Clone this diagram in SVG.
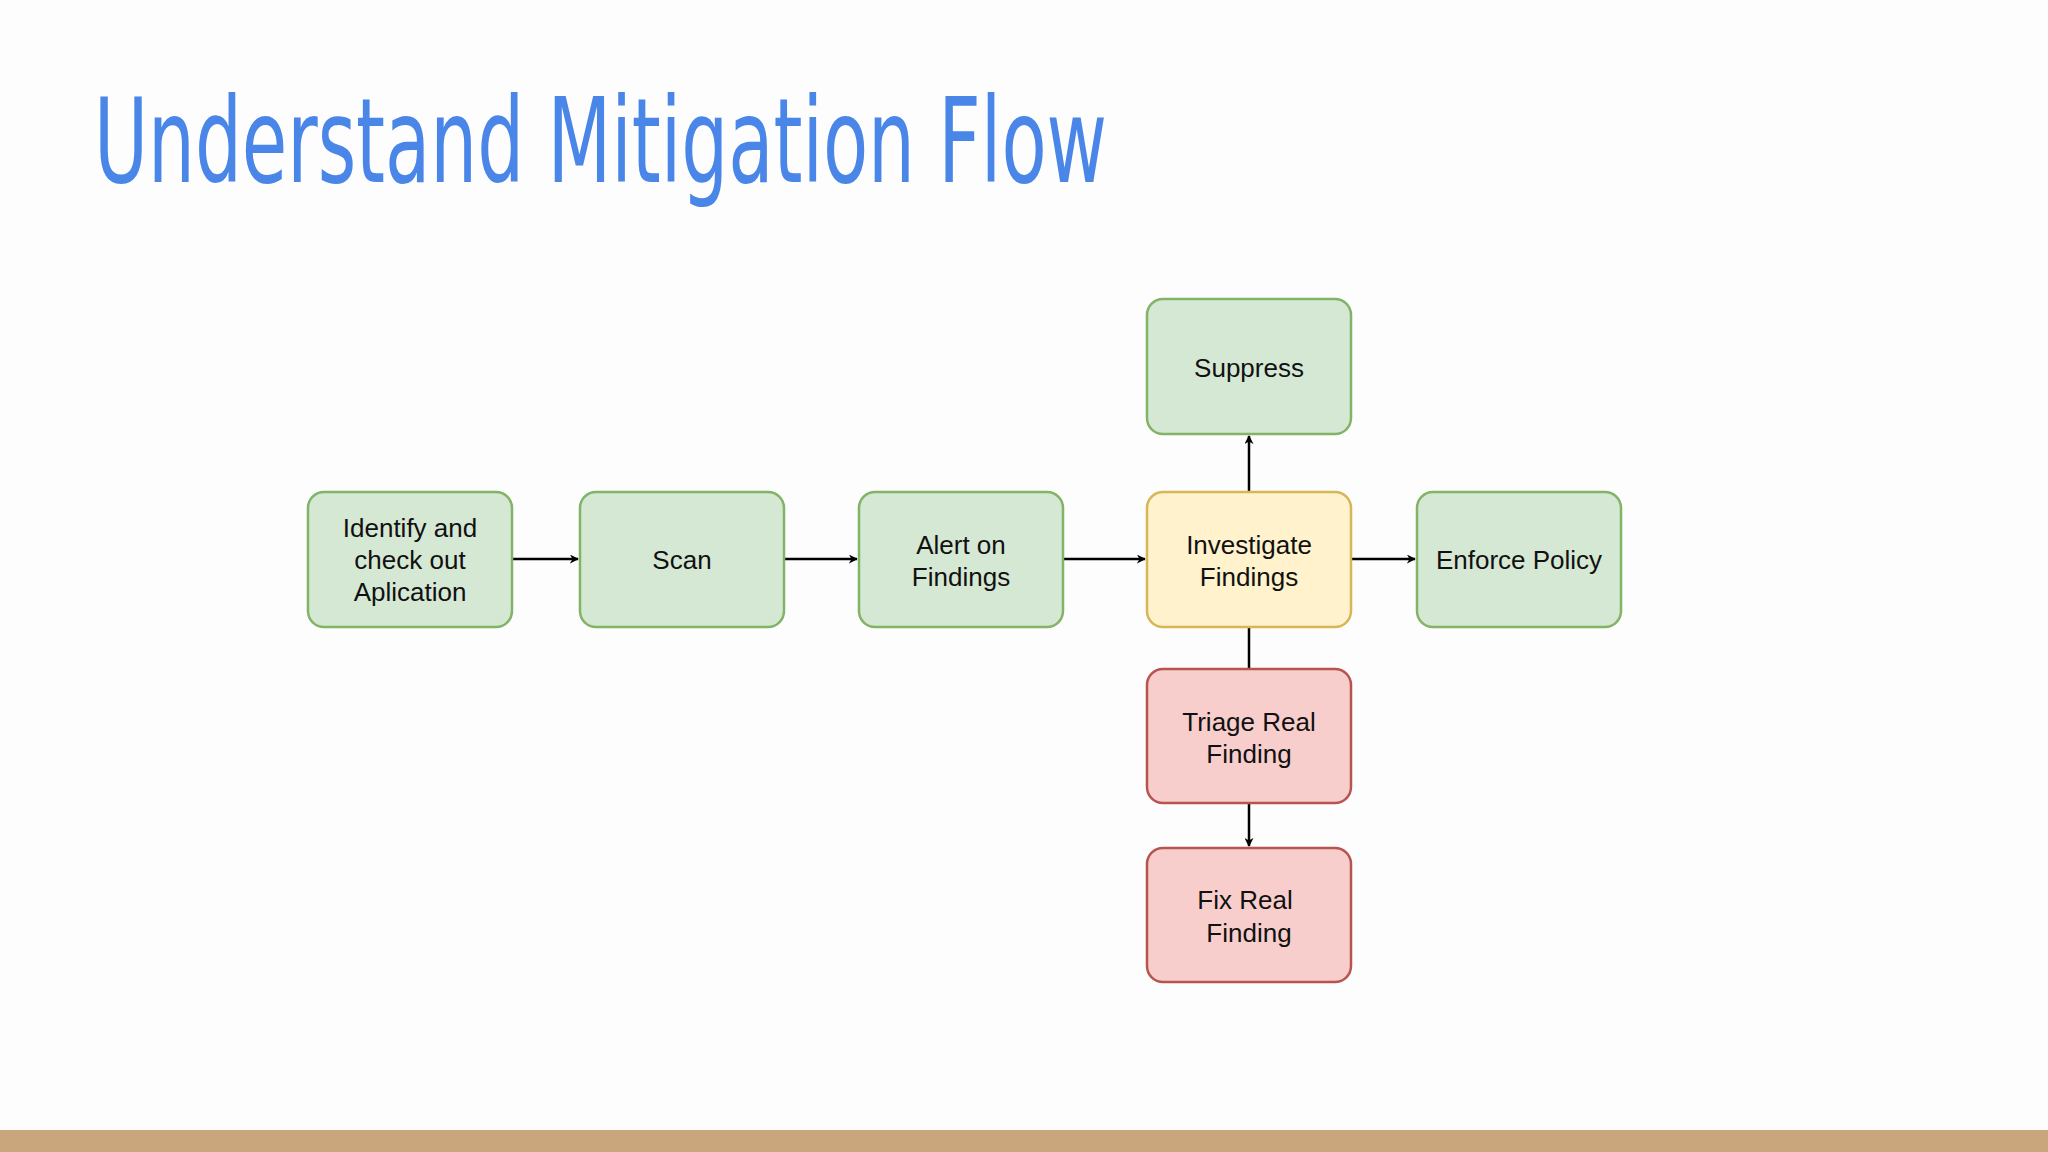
<svg xmlns="http://www.w3.org/2000/svg" width="2048" height="1152" viewBox="0 0 2048 1152">
<defs>
<marker id="ah" viewBox="0 0 10 10" refX="9" refY="5" markerWidth="9" markerHeight="9" markerUnits="userSpaceOnUse" orient="auto"><path d="M0,0 L10,5 L0,10 L3,5 z" fill="#000"/></marker>
<style>
.g{fill:#d5e8d4;stroke:#82b366;stroke-width:2.5}
.y{fill:#fff2cc;stroke:#d6b656;stroke-width:2.5}
.r{fill:#f8cecc;stroke:#b85450;stroke-width:2.5}
.t{font-family:"Liberation Sans",Arial,sans-serif;font-size:26px;fill:#111;text-anchor:middle}
.c{stroke:#000;stroke-width:2.5;fill:none}
</style>
</defs>
<rect width="2048" height="1152" fill="#fdfdfd"/>
<text x="94" y="182" font-family="'DejaVu Sans Condensed','DejaVu Sans',sans-serif" font-stretch="condensed" font-size="118" fill="#4a86e8" textLength="1013" lengthAdjust="spacingAndGlyphs">Understand Mitigation Flow</text>
<g id="connectors">
<line class="c" x1="512" y1="559" x2="578" y2="559" marker-end="url(#ah)"/>
<line class="c" x1="784" y1="559" x2="857" y2="559" marker-end="url(#ah)"/>
<line class="c" x1="1063" y1="559" x2="1145" y2="559" marker-end="url(#ah)"/>
<line class="c" x1="1351" y1="559" x2="1415" y2="559" marker-end="url(#ah)"/>
<line class="c" x1="1249" y1="492" x2="1249" y2="436" marker-end="url(#ah)"/>
<line class="c" x1="1249" y1="627" x2="1249" y2="669"/>
<line class="c" x1="1249" y1="803" x2="1249" y2="846" marker-end="url(#ah)"/>
</g>
<g id="identify"><rect class="g" x="308" y="492" width="204" height="135" rx="16"/><text class="t" x="410" y="537">Identify and</text><text class="t" x="410" y="569">check out</text><text class="t" x="410" y="601">Aplication</text></g>
<g id="scan"><rect class="g" x="580" y="492" width="204" height="135" rx="16"/><text class="t" x="682" y="569">Scan</text></g>
<g id="alert"><rect class="g" x="859" y="492" width="204" height="135" rx="16"/><text class="t" x="961" y="554">Alert on</text><text class="t" x="961" y="586">Findings</text></g>
<g id="investigate"><rect class="y" x="1147" y="492" width="204" height="135" rx="16"/><text class="t" x="1249" y="554">Investigate</text><text class="t" x="1249" y="586">Findings</text></g>
<g id="enforce"><rect class="g" x="1417" y="492" width="204" height="135" rx="16"/><text class="t" x="1519" y="569">Enforce Policy</text></g>
<g id="suppress"><rect class="g" x="1147" y="299" width="204" height="135" rx="16"/><text class="t" x="1249" y="377">Suppress</text></g>
<g id="triage"><rect class="r" x="1147" y="669" width="204" height="134" rx="16"/><text class="t" x="1249" y="731">Triage Real</text><text class="t" x="1249" y="763">Finding</text></g>
<g id="fix"><rect class="r" x="1147" y="848" width="204" height="134" rx="16"/><text class="t" x="1245" y="909">Fix Real</text><text class="t" x="1249" y="942">Finding</text></g>
<rect x="0" y="1130" width="2048" height="22" fill="#c9a67b"/>
</svg>
